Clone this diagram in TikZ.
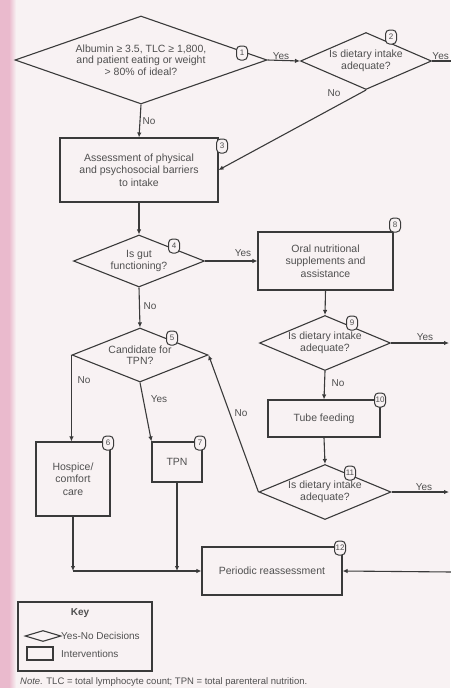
\documentclass[tikz,border=0pt]{standalone}
\usepackage{fontspec}
\setmainfont{Liberation Sans}
\usetikzlibrary{shapes.geometric,arrows.meta}
\definecolor{bgc}{RGB}{248,242,243}
\definecolor{stripc}{RGB}{234,186,205}
\definecolor{linec}{RGB}{58,58,58}
\definecolor{textc}{RGB}{80,80,80}
\begin{document}
\begin{tikzpicture}[x=1pt,y=-1pt,
  dia/.style 2 args={draw=linec, line width=1.1pt, diamond, inner sep=0pt, minimum width=#1, minimum height=#2},
  dtxt/.style={align=center, text=textc, inner sep=0pt, font=\fontsize{10.5}{11.5}\selectfont},
  box/.style 2 args={draw=linec, line width=1.1pt, rectangle, inner sep=0pt, minimum width=#1, minimum height=#2, align=center, text=textc, font=\fontsize{10.5}{12.5}\selectfont},
  num/.style={draw=linec, line width=1pt, fill=bgc, rounded corners=4pt, minimum width=11pt, minimum height=14pt, inner sep=0.5pt, text=textc, font=\fontsize{8}{8}\selectfont},
  arr/.style={draw=linec, line width=1.1pt, -{Latex[length=5pt,width=4.5pt]}},
  ln/.style={draw=linec, line width=1.1pt},
  lbl/.style={text=textc, inner sep=0pt, font=\fontsize{10}{10}\selectfont}]
\useasboundingbox (0,0) rectangle (450,688);
\fill[bgc] (0,0) rectangle (450,688);
\fill[stripc] (0,0) rectangle (9,688);
\shade[left color=stripc, right color=bgc] (9,0) rectangle (16,688);

% decisions
\node[dia={252pt}{88pt}] (d1) at (141,60) {};
\node[dtxt] (d1t) at (d1) {Albumin ≥ 3.5, TLC ≥ 1,800,\\and patient eating or weight\\> 80\% of ideal?};
\node[dia={131pt}{57pt}] (d2) at (366,61) {};
\node[dtxt] (d2t) at (d2) {Is dietary intake\\adequate?};
\node[dia={131pt}{52pt}] (d4) at (139,261) {};
\node[dtxt] (d4t) at (d4) {Is gut\\functioning?};
\node[dia={136pt}{54pt}] (d5) at (140,355) {};
\node[dtxt] (d5t) at (d5) {Candidate for\\TPN?};
\node[dia={131pt}{55pt}] (d9) at (325,343) {};
\node[dtxt] (d9t) at (d9) {Is dietary intake\\adequate?};
\node[dia={132pt}{55pt}] (d11) at (325,492) {};
\node[dtxt] (d11t) at (d11) {Is dietary intake\\adequate?};

% interventions
\node[box={158pt}{64pt}] (b3) at (139,170) {Assessment of physical\\and psychosocial barriers\\to intake};
\node[box={135pt}{58pt}] (b8) at (325.5,261) {Oral nutritional\\supplements and\\assistance};
\node[box={112pt}{37pt}] (b10) at (324,418.5) {Tube feeding};
\node[box={74pt}{74pt}] (b6) at (73,479) {Hospice/\\comfort\\care};
\node[box={50pt}{40pt}] (b7) at (177,462) {TPN};
\node[box={140pt}{48pt}] (b12) at (272,571) {Periodic reassessment};

% free ends at the right border
\coordinate (e2) at (452,61);
\coordinate (e9) at (449,343);
\coordinate (e11) at (449,492);
\coordinate (e12) at (452,572);
\coordinate (j6) at (b6.south |- b12.west);
\coordinate (j7) at (b7.south |- b12.west);

% connectors
\draw[arr] (d1.east) -- (d2.west);
\draw[ln] (d2.east) -- (e2);
\draw[arr] (d2.south) -- (b3.east);
\draw[arr] (d1.south) -- (b3.north);
\draw[arr] (b3.south) -- (d4.north);
\draw[arr] (d4.east) -- (b8.west);
\draw[arr] (b8.south) -- (d9.north);
\draw[arr] (d9.east) -- (e9);
\draw[arr] (d9.south) -- (b10.north);
\draw[arr] (b10.south) -- (d11.north);
\draw[arr] (d11.east) -- (e11);
\draw[arr] (d11.west) -- (d5.east);
\draw[arr] (d4.south) -- (d5.north);
\draw[arr] (d5.west) -- (d5.west |- b6.north);
\draw[arr] (d5.south) -- (b7.north west);
\draw[arr] (b6.south) -- (j6);
\draw[arr] (b7.south) -- (j7);
\draw[arr] (j6) -- (b12.west);
\draw[arr] (e12) -- (b12.east);

% labels
\node[lbl] (l1) at (281,56) {Yes};
\node[lbl, anchor=east] (l2) at (449,56) {Yes};
\node[lbl] (l3) at (334,93) {No};
\node[lbl] (l4) at (149,121) {No};
\node[lbl] (l5) at (243,253) {Yes};
\node[lbl] (l6) at (150,306) {No};
\node[lbl] (l7) at (425,337) {Yes};
\node[lbl] (l8) at (338,383) {No};
\node[lbl] (l9) at (424,487) {Yes};
\node[lbl] (l10) at (241,413) {No};
\node[lbl] (l11) at (84,380) {No};
\node[lbl] (l12) at (159,399) {Yes};

% step numbers
\node[num] (n1) at (242,53) {1};
\node[num] (n2) at (391,37) {2};
\node[num] (n3) at (222,146) {3};
\node[num] (n4) at (174,246) {4};
\node[num] (n5) at (172,338) {5};
\node[num] (n6) at (108,443) {6};
\node[num] (n7) at (200,443) {7};
\node[num] (n8) at (395,225) {8};
\node[num] (n9) at (352,323) {9};
\node[num] (n10) at (380,400) {10};
\node[num] (n11) at (350,473) {11};
\node[num] (n12) at (340,548) {12};

% key
\node[draw=linec, line width=1.1pt, minimum width=134pt, minimum height=69pt, inner sep=0pt] (key) at (85,636.5) {};
\node[lbl] (keyt) at (80,613) {\textbf{Key}};
\node[dia={36pt}{11pt}] (kd) at (43,636) {};
\node[lbl, anchor=west] (kdt) at (61,636) {Yes-No Decisions};
\node[draw=linec, line width=1.1pt, minimum width=26pt, minimum height=13pt, inner sep=0pt] (kr) at (40,653.5) {};
\node[lbl, anchor=west] (krt) at (61,654) {Interventions};

% note
\node[text=textc, anchor=west, inner sep=0pt, font=\fontsize{9.5}{10}\selectfont] (note) at (20,682.5) {\textit{Note.} TLC = total lymphocyte count; TPN = total parenteral nutrition.};
\end{tikzpicture}
\end{document}
